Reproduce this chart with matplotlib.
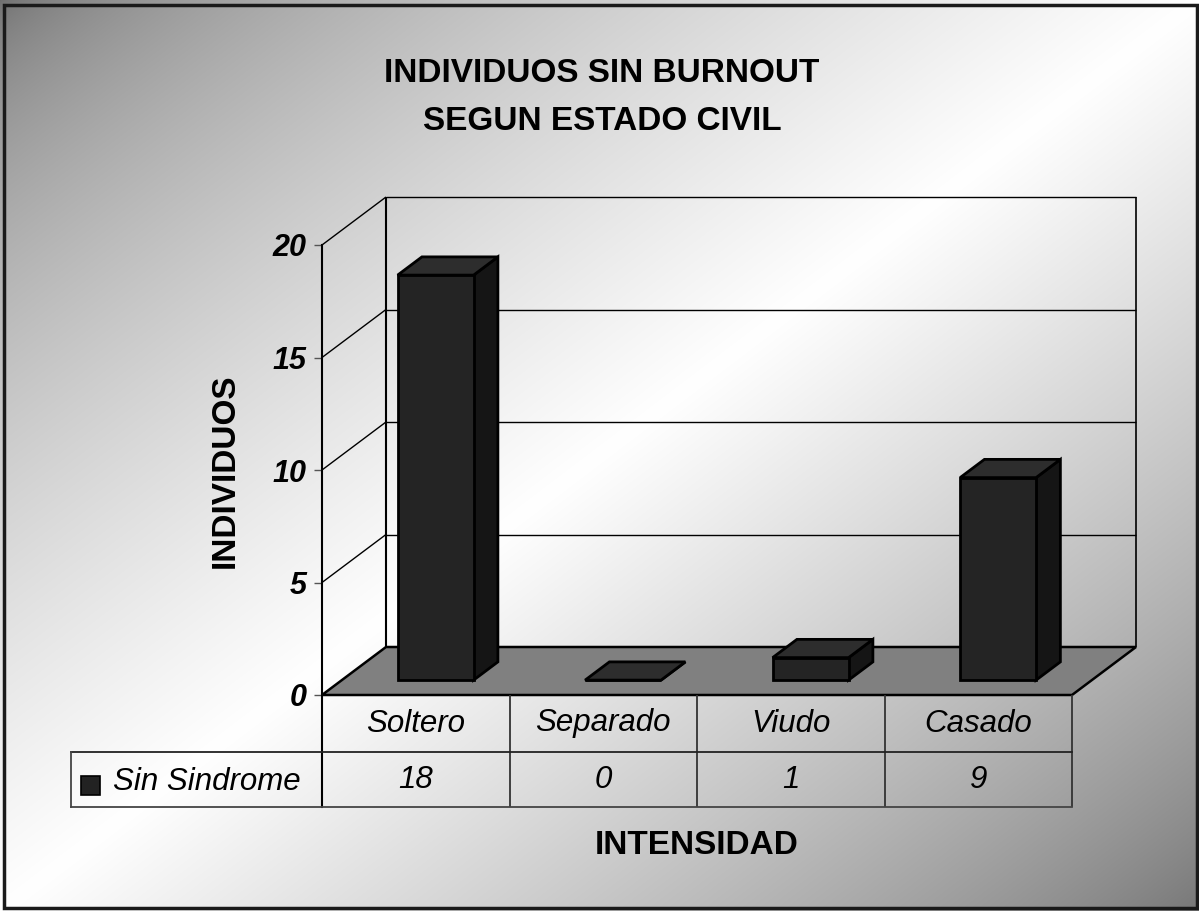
import numpy as np
import matplotlib
matplotlib.use("Agg")
import matplotlib.pyplot as plt
import matplotlib.transforms as mtransforms
from matplotlib.patches import Polygon, Rectangle

# ---------------- data ----------------
categories = ["Soltero", "Separado", "Viudo", "Casado"]
values = [18, 0, 1, 9]
series_name = "Sin Sindrome"
yticks = [0, 5, 10, 15, 20]
title_lines = ["INDIVIDUOS SIN BURNOUT", "SEGUN ESTADO CIVIL"]
ylabel = "INDIVIDUOS"
xlabel = "INTENSIDAD"

# ---------------- layout (pixels) ----------------
W, H = 1199, 911
FONT = "Liberation Sans"
plt.rcParams["font.family"] = [FONT, "DejaVu Sans"]

fig = plt.figure(figsize=(W / 100, H / 100), dpi=100)

# pixel (from top-left) -> figure transform
px = mtransforms.Affine2D().scale(1 / W, -1 / H).translate(0, 1) + fig.transFigure

# background gradient
bg = fig.add_axes([0, 0, 1, 1], zorder=0)
yy, xx = np.mgrid[0:H, 0:W]
s = xx / W + yy / H
lin = np.clip(1 - np.abs(s - 1), 0, 1)
b = np.where(s < 1, lin ** 0.6, lin ** 0.8)
dark = np.where(s < 1, 110, 118)
g = (dark + (255 - dark) * b) / 255.0
bg.imshow(np.dstack([g, g, g]), aspect="auto", extent=[0, 1, 0, 1])
bg.set_axis_off()

# main (front plane) axes
AX_L, AX_R, AX_T, AX_B = 322, 1072, 245, 695
ax = fig.add_axes([AX_L / W, (H - AX_B) / H, (AX_R - AX_L) / W, (AX_B - AX_T) / H], zorder=1)
ax.patch.set_visible(False)
ax.set_xlim(0, len(categories))
ax.set_ylim(0, 20)
for sp in ax.spines.values():
    sp.set_visible(False)
ax.set_xticks([])
ax.set_yticks(yticks)
ax.set_yticklabels([str(t) for t in yticks], fontsize=22, fontweight="bold",
                   fontstyle="italic", family=FONT)
ax.tick_params(axis="y", length=6, width=1, color="#555555", pad=5)

DX, DY = 64, 48  # depth offset in pixels (right, up)
BAR_D0, BAR_D1 = 0.31, 0.69
BAR_W = 0.405


def proj(x, y, d):
    p = ax.transData.transform((x, y)) + d * np.array([DX, DY])
    return ax.transData.inverted().transform(p)


def poly(points, fc, ec="black", lw=1.5, z=2):
    ax.add_patch(Polygon([proj(*p) for p in points], closed=True, facecolor=fc,
                         edgecolor=ec, linewidth=lw, clip_on=False, zorder=z,
                         joinstyle="miter"))


def line3d(p1, p2, color="black", lw=1.0, z=1.5):
    a, b2 = proj(*p1), proj(*p2)
    ax.plot([a[0], b2[0]], [a[1], b2[1]], color=color, lw=lw, clip_on=False,
            zorder=z, solid_capstyle="butt")


n = len(categories)
ymax = yticks[-1]

# floor
poly([(0, 0, 0), (n, 0, 0), (n, 0, 1), (0, 0, 1)], fc="#808080", lw=1.8, z=1.2)

# back wall edges and gridlines, left wall gridlines
for t in yticks[1:]:
    line3d((0, t, 1), (n, t, 1), lw=1.0)
    line3d((0, t, 0), (0, t, 1), lw=1.0)
line3d((0, 0, 1), (0, ymax, 1), lw=1.5)
line3d((n, 0, 1), (n, ymax, 1), lw=1.2)

# bars
for i, v in enumerate(values):
    xl = i + 0.5 - BAR_W / 2
    xr = i + 0.5 + BAR_W / 2
    # side
    poly([(xr, 0, BAR_D0), (xr, 0, BAR_D1), (xr, v, BAR_D1), (xr, v, BAR_D0)],
         fc="#151515", lw=2.0, z=3)
    # top
    poly([(xl, v, BAR_D0), (xr, v, BAR_D0), (xr, v, BAR_D1), (xl, v, BAR_D1)],
         fc="#2d2d2d", lw=2.0, z=3)
    # front
    poly([(xl, 0, BAR_D0), (xr, 0, BAR_D0), (xr, v, BAR_D0), (xl, v, BAR_D0)],
         fc="#242424", lw=2.0, z=3.1)

# ---------------- data table ----------------
ROW1, ROW2, ROW3 = AX_B, 752, 807
LEG_L = 71
tx = mtransforms.blended_transform_factory(ax.transData, px)
tab_kw = dict(color="#333333", lw=1.3, clip_on=False, zorder=4, solid_capstyle="butt")
# y axis line through the table
ax.plot([0, 0], [AX_T, ROW3], transform=tx, color="black", lw=1.5, clip_on=False, zorder=4)
for i in range(1, n + 1):
    ax.plot([i, i], [ROW1, ROW3], transform=tx, **tab_kw)
# horizontal rows
fig.add_artist(plt.Line2D([LEG_L, AX_R], [ROW2, ROW2], transform=px, color="#222222", lw=1.3))
fig.add_artist(plt.Line2D([LEG_L, AX_R], [ROW3, ROW3], transform=px, color="#444444", lw=1.3))
fig.add_artist(plt.Line2D([LEG_L, LEG_L], [ROW2, ROW3], transform=px, color="#444444", lw=1.3))

cell_font = dict(fontsize=22.5, fontstyle="italic", family=FONT, color="black")
for i, (c, v) in enumerate(zip(categories, values)):
    ax.text(i + 0.5, (ROW1 + ROW2) / 2, c, transform=tx, ha="center", va="center", **cell_font)
    ax.text(i + 0.5, (ROW2 + ROW3) / 2 + 1, str(v), transform=tx, ha="center", va="center", **cell_font)

# legend key
fig.add_artist(Rectangle((81, 795), 19, -19, transform=px, facecolor="#222222",
                         edgecolor="black", lw=1.2))
fig.text(113 / W, 1 - 782 / H, series_name, ha="left", va="center", **cell_font)

# ---------------- titles ----------------
for k, line in enumerate(title_lines):
    fig.text(602 / W, 1 - (82 + 48 * k) / H, line, ha="center", va="baseline",
             fontsize=24, fontweight="bold", family=FONT)
fig.text(225 / W, 1 - 471 / H, ylabel, rotation=90, ha="center", va="center",
         fontsize=24, fontweight="bold", family=FONT)
fig.text(697 / W, 1 - 845 / H, xlabel, ha="center", va="center",
         fontsize=24, fontweight="bold", family=FONT)

# outer frame
fig.add_artist(Rectangle((4, 908), 1193, -903, transform=px, fill=False,
                         edgecolor="#1a1a1a", lw=2.5))

fig.savefig("out.png", dpi=100)
